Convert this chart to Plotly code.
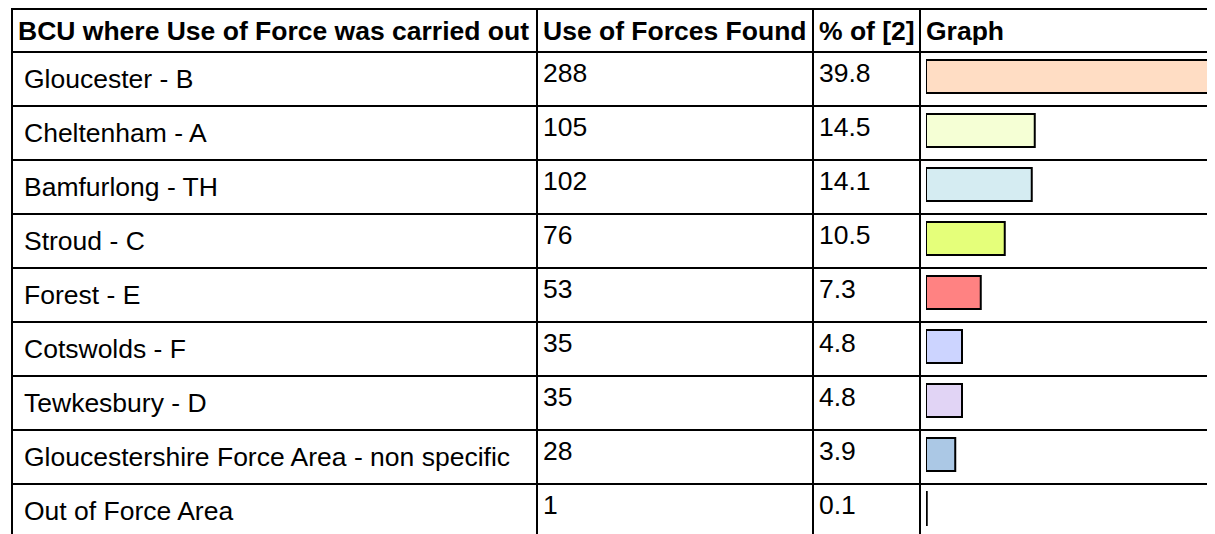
import plotly.graph_objects as go

# ---- data ----
categories = ["Gloucester - B", "Cheltenham - A", "Bamfurlong - TH", "Stroud - C",
              "Forest - E", "Cotswolds - F", "Tewkesbury - D",
              "Gloucestershire Force Area - non specific", "Out of Force Area"]
counts = [288, 105, 102, 76, 53, 35, 35, 28, 1]
percents = [39.8, 14.5, 14.1, 10.5, 7.3, 4.8, 4.8, 3.9, 0.1]
pct_labels = ["39.8", "14.5", "14.1", "10.5", "7.3", "4.8", "4.8", "3.9", "0.1"]
headers = ["BCU where Use of Force was carried out", "Use of Forces Found", "% of [2]", "Graph"]
bar_colors = ["#FFDDC4", "#F5FFD5", "#D5ECF2", "#E5FF7A", "#FF8282",
              "#CCD4FF", "#E1D4F5", "#ABC8E5", "#FFFFFF"]

# ---- layout geometry (page pixels; the page body adds an 8px margin) ----
OFF = 8
PAGE_W, PAGE_H = 1215, 534
W, H = PAGE_W - OFF, PAGE_H - OFF
FONT = "Liberation Sans, Arial, sans-serif"
FS = 26.5
ROW_H = 54
ROW0_CENTER = 79 - OFF      # centre of first data row
TABLE_TOP = 9 - OFF
HEADER_BOTTOM = 52 - OFF
LEFT = 12 - OFF
COL_BORDERS = [537 - OFF, 813 - OFF, 920 - OFF]
GRAPH_X0 = 926 - OFF
PX_PER_PCT = 7.5

n = len(categories)
y_top = (0 - ROW0_CENTER) / ROW_H
y_bot = (H - ROW0_CENTER) / ROW_H

fig = go.Figure()
fig.add_trace(go.Bar(
    orientation="h",
    y=categories,
    x=percents,
    marker=dict(color=bar_colors, line=dict(color="black", width=2)),
    offset=-19 / ROW_H,
    width=33 / ROW_H,
    hoverinfo="skip",
    showlegend=False,
))

shapes = []
line = dict(color="black", width=2)
y_table_top = (TABLE_TOP - ROW0_CENTER) / ROW_H
h_lines = [y_table_top] + [i - 0.5 for i in range(n)]
for yv in h_lines:
    shapes.append(dict(type="line", xref="paper", yref="y",
                       x0=(LEFT - 1) / W, x1=1, y0=yv, y1=yv, line=line))
for xp in [LEFT] + COL_BORDERS:
    shapes.append(dict(type="line", xref="paper", yref="y",
                       x0=xp / W, x1=xp / W,
                       y0=y_table_top, y1=y_bot, line=line))

annotations = []
header_y = ((TABLE_TOP + HEADER_BOTTOM) / 2 - ROW0_CENTER) / ROW_H
header_x = [LEFT + 4, COL_BORDERS[0] + 4, COL_BORDERS[1] + 4, COL_BORDERS[2] + 4]
for txt, xp in zip(headers, header_x):
    annotations.append(dict(text="<b>" + txt + "</b>", x=xp / W, xref="paper",
                            y=header_y, yref="y", xanchor="left", yanchor="middle",
                            showarrow=False,
                            font=dict(family=FONT, size=FS, color="black")))
for cat, cnt, pl in zip(categories, counts, pct_labels):
    annotations.append(dict(text=cat, x=(LEFT + 10) / W, xref="paper", y=cat, yref="y",
                            xanchor="left", yanchor="middle", showarrow=False,
                            font=dict(family=FONT, size=FS, color="black")))
    annotations.append(dict(text=str(cnt), x=(COL_BORDERS[0] + 4) / W, xref="paper",
                            y=cat, yref="y", yshift=6,
                            xanchor="left", yanchor="middle", showarrow=False,
                            font=dict(family=FONT, size=FS, color="black")))
    annotations.append(dict(text=pl, x=(COL_BORDERS[1] + 4) / W, xref="paper",
                            y=cat, yref="y", yshift=6,
                            xanchor="left", yanchor="middle", showarrow=False,
                            font=dict(family=FONT, size=FS, color="black")))

fig.update_layout(
    width=W, height=H,
    margin=dict(l=0, r=0, t=0, b=0),
    paper_bgcolor="white", plot_bgcolor="white",
    showlegend=False,
    xaxis=dict(domain=[GRAPH_X0 / W, 1], range=[0, (W - GRAPH_X0) / PX_PER_PCT],
               visible=False, fixedrange=True),
    yaxis=dict(type="category", categoryarray=categories, categoryorder="array",
               range=[y_bot, y_top], visible=False, fixedrange=True),
    shapes=shapes,
    annotations=annotations,
)

fig.write_html("out.html")
